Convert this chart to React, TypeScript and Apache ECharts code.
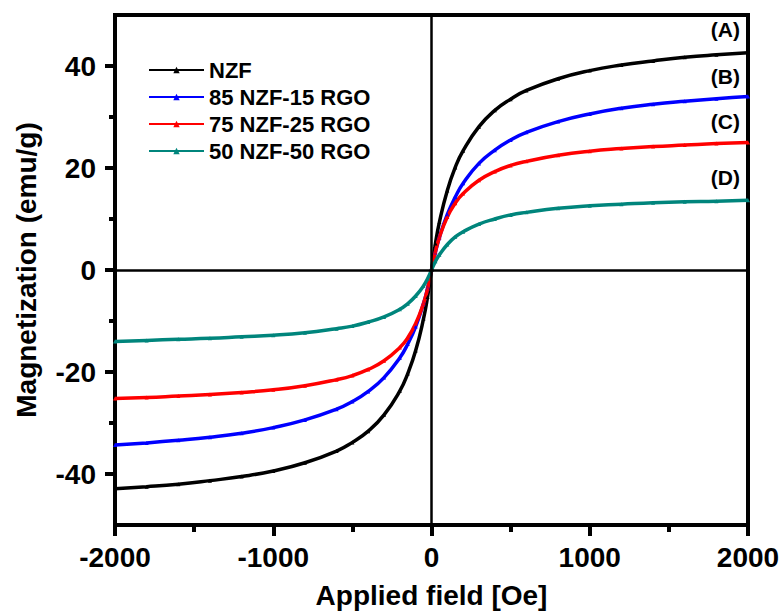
import React, { useEffect, useRef } from "react";
import * as echarts from "echarts";

const fields = [-2000, -1800, -1600, -1400, -1200, -1000, -800, -600, -500, -400, -300, -200, -150, -100, -50, -25, 0, 25, 50, 100, 150, 200, 300, 400, 500, 600, 800, 1000, 1200, 1400, 1600, 1800, 2000];

const nzf = [-42.9, -42.5, -42.0, -41.3, -40.5, -39.4, -37.8, -35.5, -33.8, -31.6, -28.4, -23.7, -20.3, -15.8, -9.5, -5.3, 0, 5.2, 9.4, 15.6, 20.1, 23.4, 28.1, 31.3, 33.5, 35.2, 37.5, 39.1, 40.2, 41.0, 41.7, 42.2, 42.6];
const nzf85 = [-34.3, -33.9, -33.4, -32.8, -32.0, -30.9, -29.4, -27.3, -25.8, -23.8, -21.1, -17.2, -14.5, -11.1, -6.5, -3.6, 0, 3.5, 6.4, 10.9, 14.3, 17.0, 20.9, 23.5, 25.5, 27.0, 29.1, 30.6, 31.7, 32.5, 33.1, 33.6, 34.0];
const nzf75 = [-25.2, -25.0, -24.7, -24.4, -24.0, -23.5, -22.7, -21.5, -20.7, -19.5, -17.8, -15.2, -13.3, -10.5, -6.5, -3.7, 0, 3.6, 6.4, 10.4, 13.1, 15.0, 17.6, 19.3, 20.5, 21.3, 22.5, 23.3, 23.8, 24.2, 24.5, 24.8, 25.0];
const nzf50 = [-14.0, -13.8, -13.6, -13.4, -13.1, -12.8, -12.3, -11.5, -11.0, -10.2, -9.2, -7.7, -6.6, -5.1, -3.1, -1.7, 0, 1.7, 3.0, 5.0, 6.5, 7.5, 9.0, 10.0, 10.8, 11.3, 12.1, 12.6, 12.9, 13.2, 13.4, 13.5, 13.7];

const seriesNames = ["NZF", "85 NZF-15 RGO", "75 NZF-25 RGO", "50 NZF-50 RGO"];
const seriesColors = ["#000000", "#0000ff", "#ff0000", "#00857c"];
const seriesValues = [nzf, nzf85, nzf75, nzf50];
const curveLabels = ["(A)", "(B)", "(C)", "(D)"];
const curveLabelY = [30, 77, 122, 178];

const yMajor = [-40, -20, 0, 20, 40];
const yMinor = [-30, -10, 10, 30];

export default function App() {
  const ref = useRef<HTMLDivElement>(null);
  useEffect(() => {
    if (!ref.current) return;
    document.body.style.margin = "0";
    const chart = echarts.init(ref.current, null, { renderer: "svg" });
    const font = "'Liberation Sans', Arial, sans-serif";
    const series: any[] = seriesValues.map((vals, i) => ({
      name: seriesNames[i],
      type: "line",
      smooth: true,
      data: fields.map((f, j) => [f, vals[j]]),
      symbol: "triangle",
      symbolSize: 4,
      showSymbol: true,
      itemStyle: { color: seriesColors[i] },
      lineStyle: { color: seriesColors[i], width: 3.5 },
      z: 3,
    }));
    series.push({
      type: "line",
      data: [],
      silent: true,
      markLine: {
        silent: true,
        symbol: "none",
        label: { show: false },
        lineStyle: { color: "#000", width: 2.5, type: "solid" },
        data: [{ xAxis: 0 }, { yAxis: 0 }],
      },
      z: 2,
    });
    chart.setOption({
      animation: false,
      backgroundColor: "#fff",
      grid: {
        left: 115,
        right: 35,
        top: 15,
        bottom: 86,
        show: true,
        borderColor: "#000",
        borderWidth: 4,
        backgroundColor: "transparent",
      },
      legend: {
        orient: "vertical",
        left: 143,
        top: 54,
        itemWidth: 55,
        itemHeight: 8,
        itemGap: 5,
        itemTextGap: 6,
        textStyle: { fontFamily: font, fontWeight: "bold", fontSize: 22, color: "#000" },
        data: seriesNames,
      },
      xAxis: {
        type: "value",
        min: -2000,
        max: 2000,
        interval: 1000,
        axisLine: { onZero: false, lineStyle: { color: "#000", width: 4 } },
        axisTick: { length: 11, lineStyle: { width: 4, color: "#000" } },
        minorTick: { show: true, splitNumber: 2, length: 7, lineStyle: { width: 4, color: "#000" } },
        splitLine: { show: false },
        axisLabel: {
          fontFamily: font,
          fontWeight: "bold",
          fontSize: 28,
          color: "#000",
          margin: 18,
          formatter: (v: number) => String(v),
        },
        name: "Applied field [Oe]",
        nameLocation: "middle",
        nameGap: 56,
        nameTextStyle: { fontFamily: font, fontWeight: "bold", fontSize: 28, color: "#000" },
      },
      yAxis: [
        {
          type: "value",
          min: -50,
          max: 50,
          axisLine: { onZero: false, lineStyle: { color: "#000", width: 4 } },
          axisTick: { length: 10, customValues: yMajor, lineStyle: { width: 4, color: "#000" } },
          splitLine: { show: false },
          axisLabel: { customValues: yMajor, fontFamily: font, fontWeight: "bold", fontSize: 28, color: "#000", margin: 19 },
          name: "Magnetization (emu/g)",
          nameLocation: "middle",
          nameGap: 75,
          nameTextStyle: { fontFamily: font, fontWeight: "bold", fontSize: 28, color: "#000" },
        },
        {
          type: "value",
          min: -50,
          max: 50,
          position: "left",
          axisLine: { show: false, onZero: false },
          axisTick: { length: 6, customValues: yMinor, lineStyle: { width: 4, color: "#000" } },
          splitLine: { show: false },
          axisLabel: { show: false },
        },
      ],
      graphic: curveLabels.map((t, i) => ({
        type: "text",
        right: 43,
        top: curveLabelY[i] - 11,
        style: { text: t, font: `bold 21px ${font}`, fill: "#000" },
        z: 10,
      })),
      series,
    });
    return () => chart.dispose();
  }, []);
  return <div ref={ref} style={{ width: 783, height: 614 }} />;
}
